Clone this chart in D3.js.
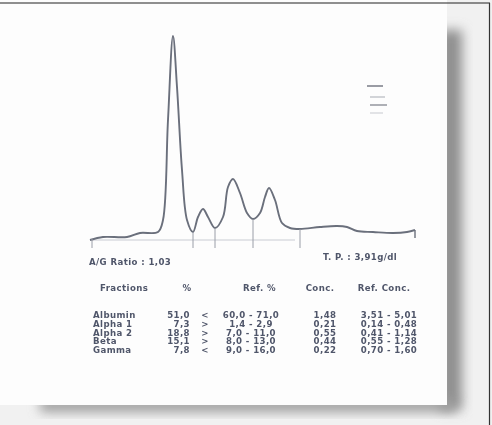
<!DOCTYPE html>
<html><head><meta charset="utf-8">
<script src="https://cdn.jsdelivr.net/npm/d3@7"></script>
<style>html,body{margin:0;padding:0;background:#fff;}svg{display:block;}</style>
</head><body>
<script>
// Densitometry trace: migration position (arbitrary units) and density
const positions = [0,13,37,50,68,73,78,83,87,92,97,103,108,113,118,125,133,138,143,150,157,163,170,175,179,185,192,200,210,230,247,257,267,283,303,317,325];
const densities = [0,3,3,7,8,20,120,204,153,70,20,8,23,31,23,12,23,53,61,47,27,21,27,43,52,40,17,12,11,13,14,13,9,8,7,8,10];
const separators = [103,125,163,210];

const fractions = ["Albumin","Alpha 1","Alpha 2","Beta","Gamma"];
const percents = ["51,0","7,3","18,8","15,1","7,8"];
const flags = ["<",">",">",">","<"];
const refPercents = ["60,0 - 71,0","1,4 - 2,9","7,0 - 11,0","8,0 - 13,0","9,0 - 16,0"];
const concs = ["1,48","0,21","0,55","0,44","0,22"];
const refConcs = ["3,51 - 5,01","0,14 - 0,48","0,41 - 1,14","0,55 - 1,28","0,70 - 1,60"];
const headers = ["Fractions","%","Ref. %","Conc.","Ref. Conc."];
const agRatio = "A/G Ratio : 1,03";
const totalProtein = "T. P. : 3,91g/dl";

const W = 492, H = 425;
const svg = d3.select("body").append("svg").attr("width", W).attr("height", H);
const defs = svg.append("defs");
defs.append("filter").attr("id","blur").append("feGaussianBlur").attr("stdDeviation",0.5);
const sf = defs.append("filter").attr("id","shadow").attr("x","-50%").attr("y","-50%").attr("width","200%").attr("height","200%");
sf.append("feGaussianBlur").attr("stdDeviation",6);

// photo background / paper
svg.append("rect").attr("x",0).attr("y",0).attr("width",W).attr("height",H).attr("fill","#f1f1f1");
svg.append("rect").attr("x",440).attr("y",30).attr("width",22).attr("height",380).attr("fill","#8e8e8e").attr("filter","url(#shadow)");
svg.append("rect").attr("x",40).attr("y",398).attr("width",415).attr("height",14).attr("fill","#9c9c9c").attr("filter","url(#shadow)");
svg.append("rect").attr("x",0).attr("y",0).attr("width",447).attr("height",405).attr("fill","#fdfdfd");
svg.append("line").attr("x1",0).attr("x2",490).attr("y1",3).attr("y2",3).attr("stroke","#222").attr("stroke-width",1.2);
svg.append("line").attr("x1",489.5).attr("x2",489.5).attr("y1",3).attr("y2",H).attr("stroke","#333").attr("stroke-width",1.2);

const g = svg.append("g").attr("filter","url(#blur)");
const x = d3.scaleLinear().domain([0,326]).range([90,416]);
const y = d3.scaleLinear().domain([0,210]).range([240,30]);
const data = positions.map((p,i)=>({p, d:densities[i]}));

// baseline
g.append("line").attr("x1",x(0)).attr("x2",x(205)).attr("y1",y(0)).attr("y2",y(0))
  .attr("stroke","#c9ccd3").attr("stroke-width",1);

const line = d3.line().x(d=>x(d.p)).y(d=>y(d.d)).curve(d3.curveCatmullRom.alpha(0.5));
const path = g.append("path").datum(data).attr("d",line).attr("fill","none")
  .attr("stroke","#6b6f7c").attr("stroke-width",1.9).attr("stroke-linejoin","round");

// separators
const node = path.node();
const total = node.getTotalLength();
function yAt(px){ let lo=0, hi=total; for(let k=0;k<40;k++){const m=(lo+hi)/2; if(node.getPointAtLength(m).x<px) lo=m; else hi=m;} return node.getPointAtLength(lo).y; }
g.selectAll(".sep").data(separators).join("line")
  .attr("x1",d=>x(d)).attr("x2",d=>x(d)).attr("y1",d=>yAt(x(d))).attr("y2",y(-8))
  .attr("stroke","#9a9ea8").attr("stroke-width",1);
g.append("line").attr("x1",x(2)).attr("x2",x(2)).attr("y1",y(1)).attr("y2",y(-8)).attr("stroke","#9a9ea8").attr("stroke-width",1);
g.append("line").attr("x1",x(325)).attr("x2",x(325)).attr("y1",y(10)).attr("y2",y(2)).attr("stroke","#6b6f7c").attr("stroke-width",1.4);

// small marks
const marks = [[367,383,86,"#9a9ca4"],[370,385,97,"#d2d4d8"],[370,387,105,"#aeb0b6"],[370,383,113,"#e2e3e6"]];
g.selectAll(".mk").data(marks).join("line").attr("x1",d=>d[0]).attr("x2",d=>d[1]).attr("y1",d=>d[2]).attr("y2",d=>d[2])
  .attr("stroke",d=>d[3]).attr("stroke-width",2);

const tc = "#50566a";
const font = "'DejaVu Sans', sans-serif";
function txt(t,xx,yy,anchor){ return g.append("text").text(t).attr("x",xx).attr("y",yy)
  .attr("text-anchor",anchor||"start").attr("font-family",font).attr("font-size",8.6)
  .attr("font-weight","bold").attr("letter-spacing",0.4).attr("fill",tc); }

txt(agRatio,89,265);
txt(totalProtein,323,260);
const hx = [[100,"start"],[187,"middle"],[243,"start"],[320,"middle"],[384,"middle"]];
headers.forEach((h,i)=>txt(h,hx[i][0],291,hx[i][1]));
const rowY = d3.scalePoint().domain(fractions).range([318,353]);
fractions.forEach((f,i)=>{
  const yy = rowY(f);
  txt(f,93,yy);
  txt(percents[i],190,yy,"end");
  txt(flags[i],205,yy,"middle");
  txt(refPercents[i],251,yy,"middle");
  txt(concs[i],325,yy,"middle");
  txt(refConcs[i],389,yy,"middle");
});
</script>
</body></html>
